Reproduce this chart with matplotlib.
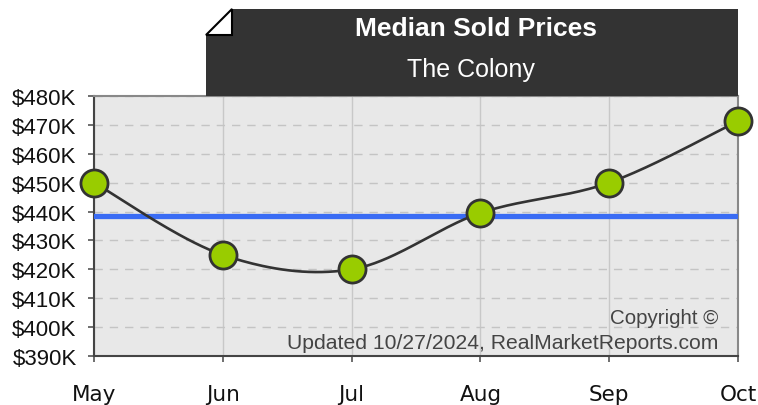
import numpy as np
import matplotlib.pyplot as plt
from matplotlib.patches import Polygon
from matplotlib.ticker import FuncFormatter

months = ['May', 'Jun', 'Jul', 'Aug', 'Sep', 'Oct']
median_price = [450000, 425000, 420000, 439500, 450000, 471300]
average_price = 438500
y_ticks = list(range(390000, 480001, 10000))

W, H = 758, 406


def catmull_rom(x, y, steps=40):
    # smooth curve through the points, like the original chart
    px = np.concatenate([[x[0]], x, [x[-1]]])
    py = np.concatenate([[y[0]], y, [y[-1]]])
    xs, ys = [], []
    t = np.linspace(0, 1, steps)
    for i in range(1, len(px) - 2):
        for p, out in ((px, xs), (py, ys)):
            p0, p1, p2, p3 = p[i - 1], p[i], p[i + 1], p[i + 2]
            out.extend(0.5 * ((2 * p1) + (-p0 + p2) * t
                              + (2 * p0 - 5 * p1 + 4 * p2 - p3) * t ** 2
                              + (-p0 + 3 * p1 - 3 * p2 + p3) * t ** 3))
    return np.array(xs), np.array(ys)


def fx(px):
    return px / W


def fy(py):
    return 1 - py / H


def main():
    plt.rcParams['font.family'] = ['Liberation Sans', 'DejaVu Sans']

    fig = plt.figure(figsize=(W / 100, H / 100), dpi=100)
    ax = fig.add_axes([fx(94), fy(357), (738 - 94) / W, (357 - 97) / H])
    ax.set_facecolor('#e8e8e8')

    x = np.arange(len(months))
    ax.set_xlim(0, len(months) - 1)
    ax.set_ylim(390000, 480000)

    ax.set_yticks(y_ticks)
    ax.yaxis.set_major_formatter(FuncFormatter(lambda v, p: f'${v / 1000:.0f}K'))
    ax.set_xticks(x)
    ax.set_xticklabels(months, fontfamily='DejaVu Sans', fontsize=15.5)

    ax.tick_params(axis='y', length=4.5, width=1.2, color='#555555', pad=8,
                   labelsize=16, labelcolor='#111111')
    ax.tick_params(axis='x', length=4.5, width=1.2, color='#555555', pad=16,
                   labelcolor='#111111')

    ax.yaxis.grid(True, color='#c4c4c4', linestyle=(0, (6, 5)), linewidth=1)
    ax.xaxis.grid(True, color='#c8c8c8', linestyle='-', linewidth=1)
    ax.set_axisbelow(True)

    for name, spine in ax.spines.items():
        spine.set_color('#444444' if name in ('left', 'bottom') else '#888888')
        spine.set_linewidth(1.5)

    ax.axhline(average_price, color='#3a6cf4', linewidth=3.8, zorder=3)

    sx, sy = catmull_rom(x.astype(float), np.array(median_price, dtype=float))
    ax.plot(sx, sy, color='#333333', linewidth=1.9, zorder=4)
    ax.plot(x, median_price, 'o', markersize=19.5, markerfacecolor='#99cc00',
            markeredgecolor='#333333', markeredgewidth=2, zorder=5, clip_on=False)

    ax.text(0.969, 0.147, 'Copyright \u00a9', transform=ax.transAxes,
            ha='right', va='center', fontsize=14.8, color='#444444')
    ax.text(0.969, 0.052, 'Updated 10/27/2024, RealMarketReports.com',
            transform=ax.transAxes, ha='right', va='center', fontsize=15.2,
            color='#444444')

    # title banner with folded corner
    box = Polygon([(fx(206), fy(36)), (fx(232), fy(10)), (fx(738), fy(10)),
                   (fx(738), fy(97)), (fx(206), fy(97))],
                  closed=True, transform=fig.transFigure, facecolor='#333333',
                  edgecolor='none')
    fold = Polygon([(fx(206), fy(36)), (fx(232), fy(10)), (fx(232), fy(36))],
                   closed=True, transform=fig.transFigure, facecolor='white',
                   edgecolor='black', linewidth=1.5)
    fig.add_artist(box)
    fig.add_artist(fold)

    fig.text(fx(476), fy(29), 'Median Sold Prices', ha='center', va='center',
             fontsize=19, fontweight='bold', color='white')
    fig.text(fx(471), fy(70), 'The Colony', ha='center', va='center',
             fontsize=18, color='white')

    fig.savefig('out.png', dpi=100)


if __name__ == '__main__':
    main()
